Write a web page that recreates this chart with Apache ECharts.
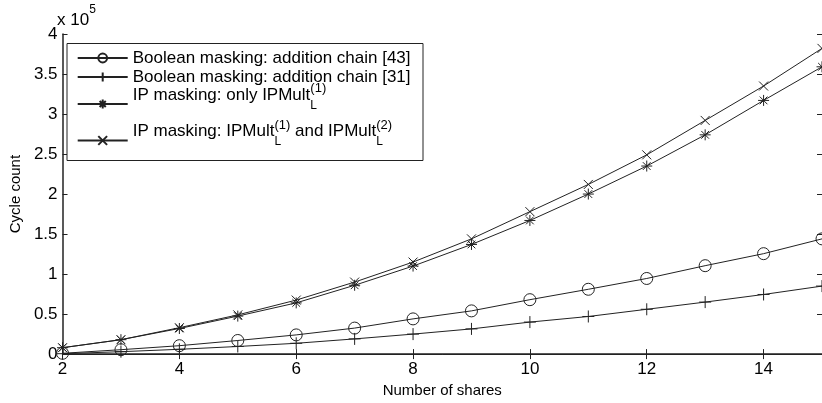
<!DOCTYPE html>
<html>
<head>
<meta charset="utf-8">
<script src="https://cdn.jsdelivr.net/npm/echarts@6/dist/echarts.min.js"></script>
<style>
html, body { margin: 0; padding: 0; background: #fff; }
#chart { width: 822px; height: 403px; }
</style>
</head>
<body>
<div id="chart"></div>
<script>
// number of shares (x axis)
const shares = [2, 3, 4, 5, 6, 7, 8, 9, 10, 11, 12, 13, 14, 15]
// cycle counts
const boolChain43 = [1000, 5500, 10500, 17000, 24000, 32500, 44000, 54000, 68000, 81000, 94500, 110500, 125500, 144000]
const boolChain31 = [500, 3000, 6000, 9500, 13500, 19000, 25000, 31500, 40000, 47000, 56000, 65000, 74500, 85000]
const ipOnly1 = [8000, 18000, 32000, 47500, 64000, 86000, 110000, 137000, 167000, 200000, 235000, 274000, 317000, 359000]
const ipBoth = [8000, 18000, 33000, 49000, 67500, 90000, 115000, 144000, 178000, 212000, 249000, 292000, 335000, 382000]
const seriesNames = [
  'Boolean masking: addition chain [43]',
  'Boolean masking: addition chain [31]',
  'IP masking: only IPMult(1)',
  'IP masking: IPMult(1) and IPMult(2)'
]
const yTicks = { min: 0, max: 400000, step: 50000, scale: 100000 }

const pts = (vals) => shares.map((s, i) => [s, vals[i]])
const ink = '#222'
const font = 'Liberation Sans, Arial, sans-serif'

const richL = {
  m: { fontSize: 17, lineHeight: 18, padding: [0, 0, 18, 0] },
  l: { fontSize: 12, lineHeight: 12, padding: [3, 0, 0, 0], width: 0 },
  s: { fontSize: 13, lineHeight: 14, padding: [0, 0, 31, 0] }
}
const labels = [
  seriesNames[0],
  seriesNames[1],
  '{m|IP masking: only IPMult}{l|L}{s|(1)}',
  '{m|IP masking: IPMult}{l|L}{s|(1)}{m| and IPMult}{l|L}{s|(2)}'
]
const legendTops = [49, 68, 82, 118.5]

function makeLegend (i) {
  return {
    show: true,
    left: 76.7,
    top: legendTops[i],
    padding: 0,
    itemWidth: 50,
    itemHeight: 11,
    selectedMode: false,
    data: [seriesNames[i]],
    formatter: () => labels[i],
    textStyle: { fontFamily: font, fontSize: 17, lineHeight: 18, color: '#000', rich: richL }
  }
}

const sym = {
  plus: 'path://M0,-1L0,1M-1,0L1,0',
  star: 'path://M0,-1L0,1M-1,0L1,0M-0.7,-0.7L0.7,0.7M-0.7,0.7L0.7,-0.7',
  cross: 'path://M-1,-1L1,1M-1,1L1,-1'
}

function line (name, vals, symbol, size, fill) {
  return {
    name: name,
    type: 'line',
    data: pts(vals),
    symbol: symbol,
    symbolSize: size,
    z: 2,
    lineStyle: { color: ink, width: 1 },
    itemStyle: { color: fill, borderColor: ink, borderWidth: 1 },
    emphasis: { disabled: true }
  }
}

const chart = echarts.init(document.getElementById('chart'))
chart.setOption({
  animation: false,
  backgroundColor: '#fff',
  title: {
    left: 57,
    top: 11.5,
    padding: 0,
    text: 'x 10{s|5}',
    textStyle: {
      fontFamily: font, fontSize: 17, fontWeight: 'normal', color: '#000', lineHeight: 18,
      rich: { s: { fontSize: 12, lineHeight: 12, padding: [0, 0, 21, 0] } }
    }
  },
  grid: { left: 58, right: 0, top: 34, bottom: 48 },
  legend: [0, 1, 2, 3].map(makeLegend),
  graphic: [{
    type: 'rect',
    z: 3,
    shape: { x: 67, y: 43.5, width: 356, height: 117 },
    style: { fill: '#fff', stroke: ink, lineWidth: 1 }
  }],
  xAxis: [{
    type: 'value',
    min: 2,
    max: 15,
    interval: 2,
    name: 'Number of shares',
    nameLocation: 'middle',
    nameGap: 28,
    nameTextStyle: { fontFamily: font, fontSize: 15, color: '#000' },
    axisLine: { lineStyle: { color: ink, width: 1.5 } },
    axisTick: { inside: true, length: 5, lineStyle: { color: ink } },
    axisLabel: { fontFamily: font, fontSize: 17, color: '#000', margin: 7, showMaxLabel: false },
    splitLine: { show: false }
  }, {
    type: 'value',
    position: 'top',
    min: 2,
    max: 15,
    interval: 2,
    axisLine: { show: true, lineStyle: { color: ink, width: 1 } },
    axisTick: { show: true, inside: true, length: 5, lineStyle: { color: ink } },
    axisLabel: { show: false },
    splitLine: { show: false }
  }],
  yAxis: [{
    type: 'value',
    min: yTicks.min,
    max: yTicks.max,
    interval: yTicks.step,
    name: 'Cycle count',
    nameLocation: 'middle',
    nameGap: 38,
    nameTextStyle: { fontFamily: font, fontSize: 15, color: '#000' },
    axisLine: { show: true, lineStyle: { color: ink, width: 1.5 } },
    axisTick: { show: true, inside: true, length: 5, lineStyle: { color: ink } },
    axisLabel: {
      fontFamily: font, fontSize: 17, color: '#000', margin: 5,
      formatter: (v) => String(v / yTicks.scale)
    },
    splitLine: { show: false }
  }, {
    type: 'value',
    position: 'right',
    min: yTicks.min,
    max: yTicks.max,
    interval: yTicks.step,
    axisLine: { show: true, lineStyle: { color: ink, width: 1 } },
    axisTick: { show: true, inside: true, length: 5, lineStyle: { color: ink } },
    axisLabel: { show: false },
    splitLine: { show: false }
  }],
  series: [
    line(seriesNames[0], boolChain43, 'circle', 12, 'rgba(0,0,0,0)'),
    line(seriesNames[1], boolChain31, sym.plus, 12, ink),
    line(seriesNames[2], ipOnly1, sym.star, 11, ink),
    line(seriesNames[3], ipBoth, sym.cross, 9, ink)
  ]
})
</script>
</body>
</html>
